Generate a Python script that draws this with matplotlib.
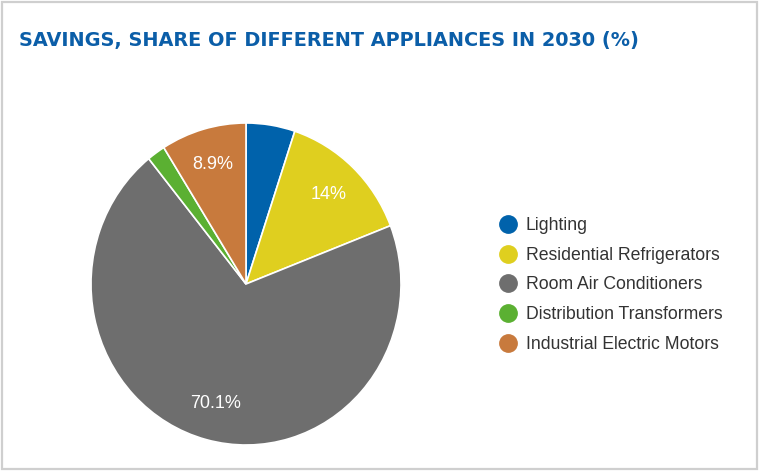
import matplotlib.pyplot as plt
from matplotlib.lines import Line2D
from matplotlib.patches import Rectangle

# savings share by appliance type, 2030
appliances = ["Lighting", "Residential Refrigerators", "Room Air Conditioners",
              "Distribution Transformers", "Industrial Electric Motors"]
shares = [5.1, 14, 70.1, 1.9, 8.9]
colors = ["#0062ab", "#dfcf1f", "#6e6e6e", "#5bb032", "#c87a3d"]

W, H = 759, 471
fig = plt.figure(figsize=(W / 100, H / 100), dpi=100)
plt.rcParams['font.family'] = ['Liberation Sans', 'DejaVu Sans']

# light frame round the whole card
fig.patches.append(Rectangle((2 / W, 2 / H), 755 / W, 467 / H, transform=fig.transFigure,
                             fill=False, edgecolor="#cfcfcf", linewidth=1.6))

fig.text(19 / W, 1 - 46 / H, "SAVINGS, SHARE OF DIFFERENT APPLIANCES IN 2030 (%)",
         fontsize=13.85, fontweight="bold", color="#0b5ea8", family="DejaVu Sans",
         ha="left", va="baseline")

# pie box in pixels: x 91..401, y 123..445 from top
ax = fig.add_axes([91 / W, (H - 445) / H, 310 / W, 322 / H])


def pct_label(p):
    return f"{p:g}%" if p >= 8 else ""


wedges, texts, autotexts = ax.pie(shares, colors=colors, startangle=90, counterclock=False,
                                  autopct=lambda p: pct_label(round(p, 1)), pctdistance=0.77,
                                  wedgeprops=dict(edgecolor="white", linewidth=1.2))
for t in autotexts:
    t.set_color("white")
    t.set_fontsize(13)
ax.set_aspect("auto")
ax.set_xlim(-1, 1)
ax.set_ylim(-1, 1)
ax.axis("off")

handles = [Line2D([], [], marker="o", linestyle="", markersize=12.5,
                  markerfacecolor=c, markeredgecolor=c) for c in colors]
leg = fig.legend(handles, appliances, loc="upper left",
                 bbox_to_anchor=(499 / W, 1 - 217 / H), frameon=False,
                 fontsize=12.7, labelspacing=0.72, handletextpad=0.52,
                 handlelength=1.0, borderpad=0, borderaxespad=0)
for t in leg.get_texts():
    t.set_color("#333333")

fig.savefig("out.png", dpi=100)
